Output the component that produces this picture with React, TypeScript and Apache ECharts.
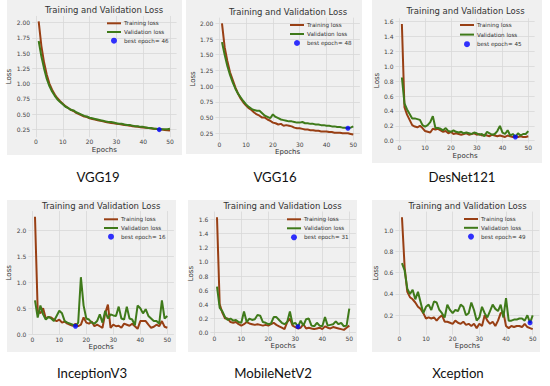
import React, { useEffect, useRef } from 'react';
import * as echarts from 'echarts';

const modelNames = ['VGG19', 'VGG16', 'DesNet121', 'InceptionV3', 'MobileNetV2', 'Xception'];
const bestEpochs = [46, 48, 45, 16, 31, 49];
const xTicks = [0, 10, 20, 30, 40, 50];

const vgg19Train = [2.02, 1.62, 1.35, 1.15, 1.0, 0.9, 0.82, 0.76, 0.71, 0.67,
  0.63, 0.6, 0.57, 0.55, 0.52, 0.5, 0.48, 0.46, 0.45, 0.43,
  0.42, 0.41, 0.4, 0.39, 0.38, 0.37, 0.36, 0.355, 0.35, 0.34,
  0.335, 0.33, 0.32, 0.315, 0.31, 0.3, 0.295, 0.29, 0.285, 0.28,
  0.275, 0.27, 0.265, 0.26, 0.255, 0.25, 0.245, 0.24, 0.235, 0.23];
const vgg19Val = [1.7, 1.45, 1.25, 1.08, 0.96, 0.87, 0.8, 0.74, 0.7, 0.66,
  0.62, 0.6, 0.57, 0.56, 0.53, 0.51, 0.49, 0.47, 0.46, 0.44,
  0.43, 0.42, 0.41, 0.4, 0.39, 0.38, 0.37, 0.37, 0.36, 0.35,
  0.34, 0.34, 0.33, 0.32, 0.32, 0.31, 0.3, 0.3, 0.29, 0.29,
  0.28, 0.27, 0.27, 0.26, 0.26, 0.245, 0.25, 0.25, 0.25, 0.26];

const vgg16Train = [2.0, 1.62, 1.4, 1.22, 1.1, 0.98, 0.88, 0.8, 0.74, 0.69,
  0.65, 0.62, 0.58, 0.55, 0.53, 0.5, 0.5, 0.47, 0.45, 0.42,
  0.41, 0.39, 0.4, 0.37, 0.38, 0.37, 0.36, 0.34, 0.33, 0.33,
  0.32, 0.31, 0.31, 0.3, 0.3, 0.29, 0.29, 0.28, 0.28, 0.28,
  0.27, 0.27, 0.26, 0.26, 0.26, 0.25, 0.25, 0.25, 0.24, 0.23];
const vgg16Val = [1.7, 1.5, 1.32, 1.18, 1.06, 0.96, 0.88, 0.82, 0.76, 0.71,
  0.67, 0.64, 0.62, 0.61, 0.61, 0.57, 0.53, 0.51, 0.49, 0.55,
  0.51, 0.49, 0.47, 0.46, 0.45, 0.44, 0.44, 0.43, 0.42, 0.42,
  0.43, 0.41, 0.41, 0.4, 0.4, 0.39, 0.39, 0.38, 0.38, 0.37,
  0.37, 0.36, 0.36, 0.35, 0.35, 0.34, 0.34, 0.33, 0.34, 0.36];

const densenetTrain = [1.57, 0.45, 0.35, 0.28, 0.21, 0.19, 0.18, 0.2, 0.17, 0.13,
  0.12, 0.11, 0.16, 0.15, 0.16, 0.14, 0.12, 0.13, 0.1, 0.12,
  0.09, 0.1, 0.09, 0.08, 0.09, 0.1, 0.08, 0.09, 0.1, 0.08,
  0.09, 0.07, 0.08, 0.07, 0.06, 0.08, 0.07, 0.06, 0.07, 0.06,
  0.05, 0.07, 0.06, 0.05, 0.06, 0.05, 0.06, 0.05, 0.05, 0.06];
const densenetVal = [0.85, 0.5, 0.42, 0.36, 0.3, 0.3, 0.29, 0.28, 0.21, 0.19,
  0.21, 0.25, 0.33, 0.17, 0.17, 0.16, 0.14, 0.17, 0.13, 0.12,
  0.14, 0.12, 0.11, 0.12, 0.1, 0.11, 0.1, 0.09, 0.11, 0.1,
  0.08, 0.09, 0.06, 0.12, 0.1, 0.08, 0.09, 0.13, 0.2, 0.11,
  0.09, 0.14, 0.07, 0.09, 0.05, 0.1, 0.07, 0.09, 0.09, 0.13];

const inceptionTrain = [2.27, 0.45, 0.4, 0.5, 0.3, 0.33, 0.32, 0.28, 0.25, 0.28,
  0.22, 0.24, 0.2, 0.18, 0.16, 0.2, 0.15, 0.18, 0.32, 0.22,
  0.2, 0.24, 0.15, 0.18, 0.15, 0.12, 0.4, 0.57, 0.12, 0.18,
  0.15, 0.16, 0.12, 0.2, 0.18, 0.16, 0.2, 0.15, 0.1, 0.25,
  0.25, 0.25, 0.18, 0.12, 0.14, 0.18, 0.15, 0.25, 0.14, 0.12];
const inceptionVal = [0.65, 0.32, 0.55, 0.38, 0.28, 0.33, 0.3, 0.25, 0.35, 0.45,
  0.4, 0.25, 0.22, 0.2, 0.18, 0.15, 0.22, 1.1, 0.55, 0.3,
  0.28, 0.22, 0.2, 0.25, 0.38, 0.22, 0.45, 0.3, 0.38, 0.36,
  0.35, 0.53, 0.3, 0.28, 0.53, 0.3, 0.28, 0.17, 0.55, 0.5,
  0.4, 0.48, 0.35, 0.3, 0.25, 0.25, 0.2, 0.65, 0.3, 0.35];

const mobilenetTrain = [1.63, 0.4, 0.28, 0.2, 0.2, 0.15, 0.14, 0.15, 0.12, 0.1,
  0.12, 0.15, 0.13, 0.12, 0.11, 0.12, 0.11, 0.1, 0.11, 0.1,
  0.12, 0.14, 0.11, 0.09, 0.07, 0.05, 0.15, 0.2, 0.1, 0.08,
  0.06, 0.07, 0.12, 0.06, 0.07, 0.06, 0.05, 0.06, 0.07, 0.05,
  0.09, 0.07, 0.06, 0.08, 0.07, 0.06, 0.05, 0.04, 0.07, 0.1];
const mobilenetVal = [0.65, 0.35, 0.3, 0.22, 0.18, 0.2, 0.17, 0.18, 0.15, 0.14,
  0.3, 0.15, 0.2, 0.18, 0.19, 0.25, 0.24, 0.15, 0.14, 0.12,
  0.13, 0.22, 0.22, 0.18, 0.14, 0.12, 0.15, 0.3, 0.12, 0.14,
  0.085, 0.17, 0.1, 0.19, 0.2, 0.1, 0.09, 0.14, 0.1, 0.09,
  0.22, 0.1, 0.11, 0.12, 0.16, 0.12, 0.14, 0.09, 0.1, 0.34];

const xceptionTrain = [1.12, 0.65, 0.42, 0.37, 0.35, 0.32, 0.28, 0.26, 0.22, 0.17,
  0.18, 0.17, 0.18, 0.15, 0.18, 0.2, 0.14, 0.14, 0.13, 0.12,
  0.15, 0.13, 0.12, 0.14, 0.11, 0.12, 0.1, 0.12, 0.08, 0.12,
  0.1, 0.2, 0.15, 0.12, 0.14, 0.1, 0.15, 0.22, 0.23, 0.1,
  0.08, 0.1, 0.09, 0.1, 0.1, 0.09, 0.12, 0.09, 0.08, 0.07];
const xceptionVal = [0.69, 0.62, 0.45, 0.4, 0.44, 0.35, 0.42, 0.32, 0.22, 0.28,
  0.3, 0.25, 0.33, 0.32, 0.25, 0.22, 0.18, 0.3, 0.25, 0.22,
  0.25, 0.24, 0.3, 0.28, 0.2, 0.22, 0.32, 0.25, 0.15, 0.18,
  0.28, 0.22, 0.18, 0.24, 0.3, 0.26, 0.24, 0.3, 0.18, 0.36,
  0.15, 0.15, 0.16, 0.16, 0.17, 0.17, 0.15, 0.2, 0.13, 0.2];

const trainSets = [vgg19Train, vgg16Train, densenetTrain, inceptionTrain, mobilenetTrain, xceptionTrain];
const valSets = [vgg19Val, vgg16Val, densenetVal, inceptionVal, mobilenetVal, xceptionVal];

const TRAIN_COLOR = '#983f14';
const VAL_COLOR = '#3f7a1a';
const BEST_COLOR = '#0000ff';
const PANEL_BG = '#f0f0f0';
const GRID_COLOR = '#d8d8d8';
const MPL_FONT = 'DejaVu Sans';
const LINE_ICON = 'path://M0,0L14,0L14,2L0,2Z';

const XMIN = -1.45;
const XMAX = 52.45;

const layouts = [
  { x0: 36, x50: 170, yv1: 2.0, yp1: 22.7, yv2: 0.25, yp2: 129.3, ymin: 0.12, ymax: 2.11, yStep: 0.25, dec: 2, titleX: 104, titleY: 10, legX: 107, legY: 20.3, legGap: 2.7, xLabY: 141.7, epochsY: 150, lossX: 11.7, capX: 98, capY: 177, bg: [7, 0, 175, 155] },
  { x0: 219.3, x50: 353.3, yv1: 2.0, yp1: 23.3, yv2: 0.25, yp2: 133.3, ymin: 0.14, ymax: 2.09, yStep: 0.25, dec: 2, titleX: 288, titleY: 12.3, legX: 290, legY: 22, legGap: 3, xLabY: 145, epochsY: 152.7, lossX: 195, capX: 275, capY: 177, bg: [186, 0, 176, 154] },
  { x0: 399.3, x50: 528.3, yv1: 1.6, yp1: 21.7, yv2: 0.0, yp2: 140.7, ymin: -0.026, ymax: 1.646, yStep: 0.2, dec: 1, titleX: 465.5, titleY: 11, legX: 460, legY: 22, legGap: 3.6, xLabY: 147.3, epochsY: 156.7, lossX: 378.3, capX: 462, capY: 177, bg: [372, 0, 170, 163] },
  { x0: 32.3, x50: 167.3, yv1: 2.0, yp1: 230.7, yv2: 0.0, yp2: 334, ymin: -0.0085, ymax: 2.38, yStep: 0.5, dec: 1, titleX: 101.2, titleY: 205.7, legX: 104, legY: 216.3, legGap: 2.7, xLabY: 340, epochsY: 347.3, lossX: 11.7, capX: 92, capY: 373, bg: [7, 200, 169, 152] },
  { x0: 214.3, x50: 349.3, yv1: 1.6, yp1: 219.3, yv2: 0.0, yp2: 332.7, ymin: -0.04, ymax: 1.71, yStep: 0.2, dec: 1, titleX: 282.5, titleY: 206, legX: 287, legY: 216.3, legGap: 3, xLabY: 339, epochsY: 346.7, lossX: 195, capX: 273, capY: 373, bg: [188, 200, 169, 152] },
  { x0: 399.3, x50: 532.7, yv1: 1.0, yp1: 230, yv2: 0.2, yp2: 315.3, ymin: 0.0175, ymax: 1.1725, yStep: 0.2, dec: 1, titleX: 467.5, titleY: 205.7, legX: 464, legY: 216, legGap: 2.8, xLabY: 339, epochsY: 346.7, lossX: 378.3, capX: 458, capY: 373, bg: [372, 200, 168, 152] },
];

function isMultiple(v: number, step: number) {
  const r = v / step;
  return Math.abs(r - Math.round(r)) < 1e-6;
}

function buildOption() {
  const grid: any[] = [];
  const xAxis: any[] = [];
  const yAxis: any[] = [];
  const series: any[] = [];
  const legend: any[] = [];
  const graphic: any[] = [];

  layouts.forEach((L, k) => {
    const ppx = (L.x50 - L.x0) / 50;
    const left = L.x0 + XMIN * ppx;
    const width = (XMAX - XMIN) * ppx;
    const ppy = (L.yp2 - L.yp1) / (L.yv1 - L.yv2);
    const top = L.yp1 - (L.ymax - L.yv1) * ppy;
    const height = (L.ymax - L.ymin) * ppy;
    const bottom = top + height;

    graphic.push({ type: 'rect', z: -10, silent: true, shape: { x: L.bg[0], y: L.bg[1], width: L.bg[2], height: L.bg[3] }, style: { fill: PANEL_BG } });
    graphic.push({ type: 'text', silent: true, x: L.titleX, y: L.titleY, style: { text: 'Training and Validation Loss', fontSize: 8.5, fontFamily: MPL_FONT, fill: '#333', align: 'center', verticalAlign: 'middle' } });
    graphic.push({ type: 'text', silent: true, x: L.capX, y: L.capY, style: { text: modelNames[k], fontSize: 13.2, fontFamily: 'Lato', fill: '#111', align: 'center', verticalAlign: 'middle' } });

    grid.push({ left, top, width, height, containLabel: false, outerBoundsMode: 'none', show: false });

    xAxis.push({
      type: 'value', gridIndex: k, min: XMIN, max: XMAX, minInterval: 10, maxInterval: 10,
      name: 'Epochs', nameLocation: 'middle', nameGap: L.epochsY - 3.8 - bottom,
      nameTextStyle: { fontSize: 7, fontFamily: MPL_FONT, color: '#333' },
      axisLine: { show: false }, axisTick: { show: false },
      axisLabel: {
        fontSize: 6, fontFamily: MPL_FONT, color: '#444', margin: L.xLabY - 3.3 - bottom,
        showMinLabel: true, showMaxLabel: true,
        formatter: (v: number) => (isMultiple(v, 10) && xTicks.includes(Math.round(v)) ? String(Math.round(v)) : ''),
      },
      splitLine: { show: true, showMinLine: false, showMaxLine: false, lineStyle: { color: GRID_COLOR, width: 0.8 } },
    });

    yAxis.push({
      type: 'value', gridIndex: k, min: L.ymin, max: L.ymax, minInterval: L.yStep, maxInterval: L.yStep,
      name: 'Loss', nameLocation: 'middle', nameGap: left - (L.lossX + 3.5),
      nameTextStyle: { fontSize: 7, fontFamily: MPL_FONT, color: '#333' },
      axisLine: { show: false }, axisTick: { show: false },
      axisLabel: {
        fontSize: 6, fontFamily: MPL_FONT, color: '#444', margin: 2,
        showMinLabel: true, showMaxLabel: true,
        formatter: (v: number) => (isMultiple(v, L.yStep) ? v.toFixed(L.dec) : ''),
      },
      splitLine: { show: true, showMinLine: false, showMaxLine: false, lineStyle: { color: GRID_COLOR, width: 0.8 } },
    });

    const best = bestEpochs[k];
    const bestName = 'best epoch= ' + best;
    series.push({
      type: 'line', name: 'Training loss', xAxisIndex: k, yAxisIndex: k,
      data: trainSets[k].map((v, i) => [i + 1, v]), symbol: 'none', showSymbol: false,
      lineStyle: { color: TRAIN_COLOR, width: 2 }, itemStyle: { color: TRAIN_COLOR }, z: 2,
    });
    series.push({
      type: 'line', name: 'Validation loss', xAxisIndex: k, yAxisIndex: k,
      data: valSets[k].map((v, i) => [i + 1, v]), symbol: 'none', showSymbol: false,
      lineStyle: { color: VAL_COLOR, width: 2 }, itemStyle: { color: VAL_COLOR }, z: 2,
    });
    series.push({
      type: 'scatter', name: bestName, xAxisIndex: k, yAxisIndex: k,
      data: [[best, valSets[k][best - 1]]], symbol: 'circle', symbolSize: 5,
      itemStyle: { color: BEST_COLOR }, z: 3,
    });

    legend.push({
      data: [
        { name: 'Training loss', icon: LINE_ICON },
        { name: 'Validation loss', icon: LINE_ICON },
        { name: bestName, icon: 'circle' },
      ],
      orient: 'vertical', symbolKeepAspect: true,
      left: L.legX, top: L.legY, itemWidth: 14, itemHeight: 6, itemGap: L.legGap, padding: 0,
      selectedMode: false, textStyle: { fontSize: 5.6, fontFamily: MPL_FONT, color: '#333', padding: [0, 0, 0, -2] },
    });
  });

  return {
    animation: false,
    backgroundColor: '#ffffff',
    grid, xAxis, yAxis, series, legend, graphic,
  };
}

export default function App() {
  const ref = useRef<HTMLDivElement>(null);
  useEffect(() => {
    if (!ref.current) return;
    const chart = echarts.init(ref.current, undefined, { renderer: 'svg' });
    chart.setOption(buildOption() as any);
    return () => chart.dispose();
  }, []);
  return <div ref={ref} style={{ position: 'absolute', left: 0, top: 0, width: 550, height: 386 }} />;
}
